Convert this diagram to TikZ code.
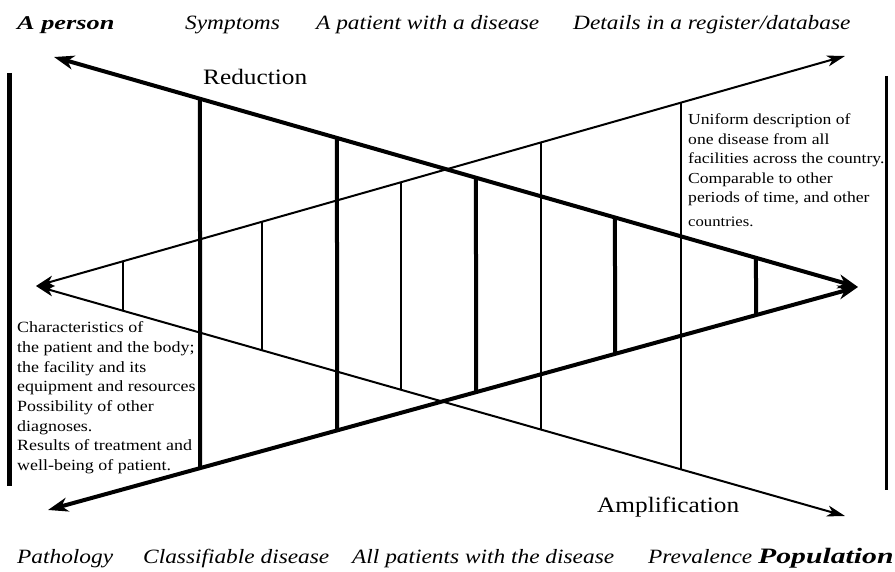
\documentclass[tikz,border=0pt]{standalone}
\usepackage{fontspec}
\setmainfont{Liberation Serif}[FakeStretch=1.15]
\newfontfamily\headfont{Liberation Serif}[FakeStretch=1.35]
\usetikzlibrary{arrows.meta}

\begin{document}
\begin{tikzpicture}[x=1pt,y=-1pt,
  bigtip/.tip={Stealth[length=20pt,width=14pt,inset=6pt]},
  smalltip/.tip={Stealth[length=18pt,width=11pt,inset=5pt]},
  heavyaxis/.style={line width=4pt,bigtip-bigtip},
  lightaxis/.style={line width=2pt,smalltip-smalltip},
  heavybar/.style={line width=4pt},
  lightbar/.style={line width=2pt},
  caption/.style={inner sep=0pt,anchor=base west,font=\fontsize{20.3}{24}\selectfont\itshape},
  keyword/.style={inner sep=0pt,anchor=base west,font=\fontsize{20.5}{24}\selectfont\headfont\bfseries\itshape},
  direction/.style={inner sep=0pt,anchor=base west,font=\fontsize{22}{26}\selectfont},
  note/.style={inner sep=0pt,anchor=base west,font=\fontsize{15.6}{19}\selectfont},
]
\fill[white] (0,0) rectangle (895,572);
\useasboundingbox (0,0) rectangle (895,572);

% end points of the two crossing wedges
\coordinate (L)  at (36,286);
\coordinate (R)  at (858,287);
\coordinate (TL) at (54,57);
\coordinate (BL) at (48,510);
\coordinate (TR) at (845,56);
\coordinate (BR) at (845,516);

% heavy wedge: opens to the left
\draw[heavyaxis] (R) -- (TL);
\draw[heavyaxis] (R) -- (BL);
% light wedge: opens to the right
\draw[lightaxis] (L) -- (TR);
\draw[lightaxis] (L) -- (BR);

% cross bars of each wedge
\foreach \x in {200,337,476,615,756}
  \draw[heavybar] (intersection of R--TL and \x,0--\x,600)
               -- (intersection of R--BL and \x,0--\x,600);
\foreach \x in {123,262,401,541,681}
  \draw[lightbar] (intersection of L--TR and \x,0--\x,600)
               -- (intersection of L--BR and \x,0--\x,600);

% side rules
\coordinate (lt) at (9.5,73);  \coordinate (lb) at (9.5,486);
\coordinate (rt) at (886.5,76); \coordinate (rb) at (886.5,490);
\draw[line width=4.5pt] (lt) -- (lb);
\draw[line width=2.2pt] (rt) -- (rb);

% top row
\node[keyword,font=\fontsize{19.5}{24}\selectfont\headfont\bfseries\itshape] (person) at (17,30) {A person};
\node[caption] (symptoms) at (185,30) {Symptoms};
\node[caption] (patient)  at (316,30) {A patient with a disease};
\node[caption] (register) at (573,30) {Details in a register/database};

% bottom row
\node[caption] (pathology)  at (17,563)  {Pathology};
\node[caption] (classify)   at (143,563) {Classifiable disease};
\node[caption] (allpat)     at (352,563) {All patients with the disease};
\node[caption] (prevalence) at (648,563) {Prevalence};
\node[keyword,font=\fontsize{22}{26}\selectfont\headfont\bfseries\itshape] (population) at (758,563) {Population};

% directions
\node[direction] (reduction)     at (203,85)  {Reduction};
\node[direction] (amplification) at (597,512) {Amplification};

% left explanation
\foreach \t [count=\i] in {Characteristics of,
  the patient and the body;,
  the facility and its,
  equipment and resources,
  Possibility of other,
  diagnoses.,
  Results of treatment and,
  well-being of patient.}
  \node[note] (left\i) at (17,{333+19.6*(\i-1)}) {\t};

% right explanation
\foreach \t [count=\i] in {Uniform description of,
  one disease from all,
  facilities across the country.,
  Comparable to other,
  {periods of time, and other}}
  \node[note,font=\fontsize{15.3}{19}\selectfont] (right\i) at (688,{125+19.5*(\i-1)}) {\t};
\node[note,font=\fontsize{14.5}{18}\selectfont] (right6) at (688,227) {countries.};
\end{tikzpicture}
\end{document}
